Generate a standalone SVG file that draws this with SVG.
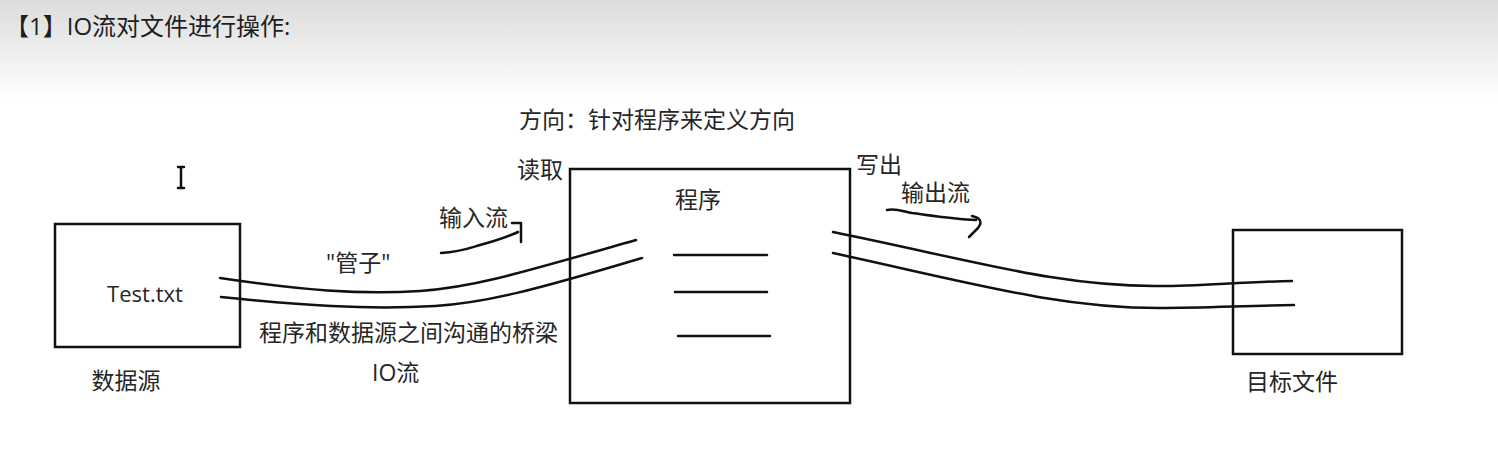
<svg xmlns="http://www.w3.org/2000/svg" width="1498" height="475" viewBox="0 0 1498 475">
<defs>
<linearGradient id="bg" x1="0" y1="0" x2="0" y2="1">
<stop offset="0" stop-color="#dcdcdc"/>
<stop offset="1" stop-color="#ffffff"/>
</linearGradient>
</defs>
<style>
.box{fill:#fff;stroke:#111;stroke-width:2.5}
.ln{fill:none;stroke:#111;stroke-width:2.5;stroke-linecap:round;stroke-linejoin:round}
.t{font-family:"Open Sans","Noto Sans CJK SC",sans-serif;font-size:23px;fill:#262626}
.ttl{font-family:"Open Sans","Noto Sans CJK SC",sans-serif;font-size:24px;fill:#1e1e1e}
.lat{font-family:"Open Sans","Noto Sans CJK SC",sans-serif;font-size:22px;fill:#262626}
</style>
<rect x="0" y="0" width="1498" height="475" fill="#fff"/>
<rect x="0" y="0" width="1498" height="100" fill="url(#bg)"/>
<text class="ttl" x="5" y="35">【1】IO流对文件进行操作:</text>

<text class="t" x="519" y="128">方向：针对程序来定义方向</text>

<path class="ln" d="M178,167 h6 M181,167 v21 M178,188 h6" stroke-width="2"/>

<g id="datasource">
<rect class="box" x="55" y="224" width="185" height="123"/>
<text class="lat" x="145" y="302" text-anchor="middle">Test.txt</text>
<text class="t" x="126" y="389" text-anchor="middle">数据源</text>
</g>

<g id="program">
<rect class="box" x="570" y="169" width="280" height="234"/>
<text class="t" x="698" y="208" text-anchor="middle">程序</text>
<path class="ln" d="M674,255 H767 M675,292 H767 M678,336 H770"/>
</g>

<g id="target">
<rect class="box" x="1233" y="230" width="169" height="124"/>
<text class="t" x="1292" y="390" text-anchor="middle">目标文件</text>
</g>

<g id="connectors">
<path class="ln" d="M220,278 C300,290 360,295 420,291 C475,287 520,273 636,240"/>
<path class="ln" d="M221,297 C300,305 365,310 435,306 C485,303 535,290 642,258"/>
<path class="ln" d="M833,232 C980,262 1060,287 1160,286 C1200,286 1240,282 1292,281"/>
<path class="ln" d="M833,253 C980,285 1060,308 1160,308 C1200,308 1240,306 1294,305"/>
</g>

<g id="labels">
<text class="t" x="517" y="178">读取</text>
<text class="t" x="856" y="173">写出</text>
<text class="t" x="326" y="271">"管子"</text>
<text class="t" x="259" y="341">程序和数据源之间沟通的桥梁</text>
<text class="t" x="372" y="381">IO流</text>
<text class="t" x="439" y="226">输入流</text>
<text class="t" x="901" y="201">输出流</text>
<path class="ln" d="M441,253 C460,252 470,248 480,245 C495,241 505,238 518,232"/>
<path class="ln" d="M512,223 H521 V242"/>
<path class="ln" d="M887,210 C895,208 902,211 912,213 C935,216 955,219 976,220"/>
<path class="ln" d="M972,216 Q985,219 978,228 L969,237"/>
</g>
</svg>
